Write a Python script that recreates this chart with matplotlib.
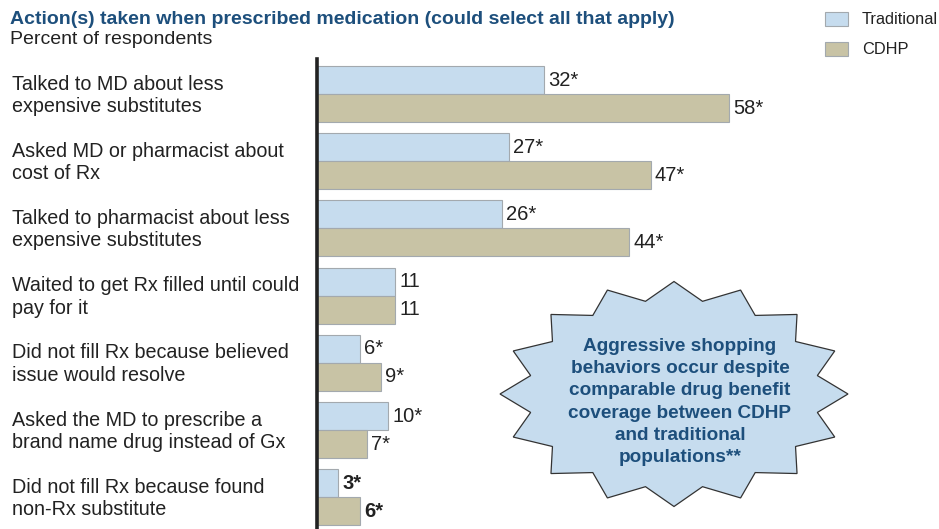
import numpy as np
import matplotlib
matplotlib.use("Agg")
import matplotlib.pyplot as plt
from matplotlib.patches import Polygon, Rectangle
from matplotlib.transforms import blended_transform_factory

# ---------------- data ----------------
categories = [
    "Talked to MD about less\nexpensive substitutes",
    "Asked MD or pharmacist about\ncost of Rx",
    "Talked to pharmacist about less\nexpensive substitutes",
    "Waited to get Rx filled until could\npay for it",
    "Did not fill Rx because believed\nissue would resolve",
    "Asked the MD to prescribe a\nbrand name drug instead of Gx",
    "Did not fill Rx because found\nnon-Rx substitute",
]
traditional = [32, 27, 26, 11, 6, 10, 3]
cdhp = [58, 47, 44, 11, 9, 7, 6]
trad_labels = ["32*", "27*", "26*", "11", "6*", "10*", "3*"]
cdhp_labels = ["58*", "47*", "44*", "11", "9*", "7*", "6*"]
bold_rows = [6]

title = "Action(s) taken when prescribed medication (could select all that apply)"
subtitle = "Percent of respondents"
callout = ("Aggressive shopping\nbehaviors occur despite\ncomparable drug benefit\n"
           "coverage between CDHP\nand traditional\npopulations**")

# ---------------- style ----------------
plt.rcParams["font.family"] = ["Liberation Sans", "DejaVu Sans"]
blue_txt = "#1d4f7c"
dark = "#222222"
c_trad = "#c6dcee"
c_cdhp = "#c8c3a5"
edge = "#a3a9ae"

W, H = 939, 529
fig = plt.figure(figsize=(W / 100, H / 100), dpi=100)

# main axes: bars start at x=317px, groups spaced 67.2px, first centre y=94px
x0 = 317
px_per_unit = 7.1
gap = 67.2
y_top, y_first = 59, 94
ax = fig.add_axes([x0 / W, 0, 1 - x0 / W, 1 - y_top / H])
ax.set_xlim(0, (W - x0) / px_per_unit)
ax.set_ylim((H - y_first) / gap, (y_top - y_first) / gap)

pos = np.arange(len(categories))
bh = 28 / gap
ax.barh(pos - bh / 2, traditional, height=bh, color=c_trad, edgecolor=edge, linewidth=0.8)
ax.barh(pos + bh / 2, cdhp, height=bh, color=c_cdhp, edgecolor=edge, linewidth=0.8)

for i in pos:
    fw = "bold" if i in bold_rows else "normal"
    ax.text(traditional[i] + 0.6, i - bh / 2, trad_labels[i], va="center", ha="left",
            fontsize=14.5, color=dark, fontweight=fw)
    ax.text(cdhp[i] + 0.6, i + bh / 2, cdhp_labels[i], va="center", ha="left",
            fontsize=14.5, color=dark, fontweight=fw)

for s in ["top", "right", "bottom"]:
    ax.spines[s].set_visible(False)
ax.spines["left"].set_linewidth(2.6)
ax.spines["left"].set_color(dark)
ax.set_xticks([])
ax.set_yticks([])

# category labels
tr = blended_transform_factory(fig.transFigure, ax.transData)
for i, lab in enumerate(categories):
    ax.text(12 / W, i + 0.02, lab, transform=tr, ha="left", va="center",
            fontsize=14.2, color=dark, linespacing=1.22, clip_on=False)

# titles
fig.text(10 / W, 1 - 24 / H, title, fontsize=14, fontweight="bold", color=blue_txt,
         ha="left", va="baseline")
fig.text(10 / W, 1 - 44 / H, subtitle, fontsize=14, color=dark, ha="left", va="baseline")

# overlay in pixel coordinates for legend and callout
ov = fig.add_axes([0, 0, 1, 1], facecolor="none")
ov.set_xlim(0, W)
ov.set_ylim(H, 0)
ov.axis("off")

ov.add_patch(Rectangle((825, 12), 23, 14, facecolor=c_trad, edgecolor=edge, lw=0.8))
ov.add_patch(Rectangle((825, 42), 23, 14, facecolor=c_cdhp, edgecolor=edge, lw=0.8))
ov.text(862, 19, "Traditional", fontsize=11.8, color=dark, va="center", ha="left")
ov.text(862, 49, "CDHP", fontsize=11.8, color=dark, va="center", ha="left")

# starburst callout
cx, cy, rx, ry = 674, 394, 174, 112.5
n = 16
ang = np.arange(2 * n) * np.pi / n
r = np.where(np.arange(2 * n) % 2 == 0, 1.0, 0.84)
pts = np.column_stack([cx + rx * r * np.cos(ang), cy - ry * r * np.sin(ang)])
ov.add_patch(Polygon(pts, closed=True, facecolor=c_trad, edgecolor="#333333", lw=0.9))
ov.text(680, 402, callout, ha="center", va="center", fontsize=13.7, fontweight="bold",
        color=blue_txt, linespacing=1.4)

fig.savefig("out.png", dpi=100)
